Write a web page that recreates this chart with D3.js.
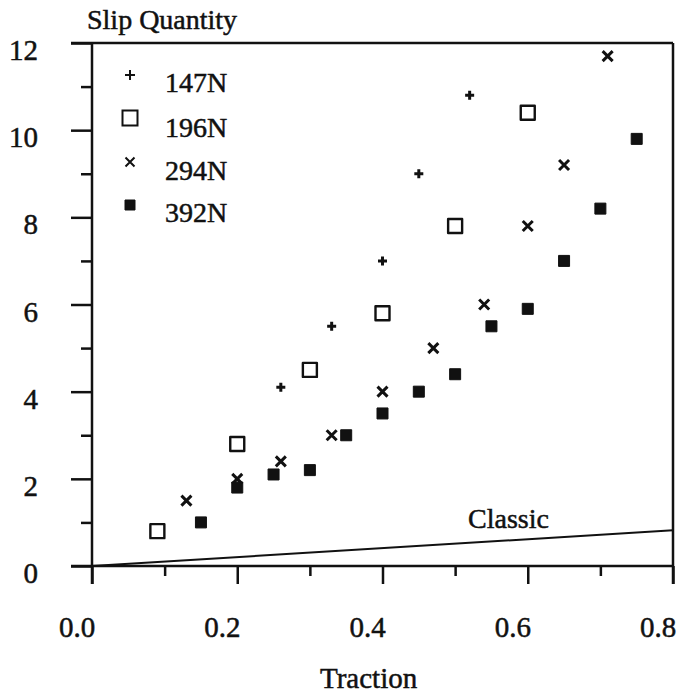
<!DOCTYPE html>
<html>
<head>
<meta charset="utf-8">
<script src="https://cdn.jsdelivr.net/npm/d3@7"></script>
<style>
  body { margin: 0; background: #fff; }
  text { font-family: "Liberation Serif", "Times New Roman", serif; fill: #111; stroke: #111; stroke-width: 0.5px; }
</style>
</head>
<body>
<script>
const w = 680;
const h = 695;

// data
const load147 = [[0.26, 4.1], [0.33, 5.5], [0.40, 7.0], [0.45, 9.0], [0.52, 10.8]];
const load196 = [[0.09, 0.8], [0.20, 2.8], [0.30, 4.5], [0.40, 5.8], [0.50, 7.8], [0.60, 10.4]];
const load294 = [[0.13, 1.5], [0.20, 2.0], [0.26, 2.4], [0.33, 3.0], [0.40, 4.0], [0.47, 5.0],
  [0.54, 6.0], [0.60, 7.8], [0.65, 9.2], [0.71, 11.7]];
const load392 = [[0.15, 1.0], [0.20, 1.8], [0.25, 2.1], [0.30, 2.2], [0.35, 3.0], [0.40, 3.5],
  [0.45, 4.0], [0.50, 4.4], [0.55, 5.5], [0.60, 5.9], [0.65, 7.0], [0.70, 8.2], [0.75, 9.8]];
const classic = [[0, 0], [0.8, 0.82]];
const seriesNames = ["147N", "196N", "294N", "392N"];
const xTicks = [0, 0.2, 0.4, 0.6, 0.8];
const xMinor = [0.1, 0.3, 0.5, 0.7];
const yTicks = [0, 2, 4, 6, 8, 10, 12];
const yMinor = [1, 3, 5, 7, 9, 11];

const padLeft = 92, padRight = 673, padTop = 43, padBottom = 566;

const svg = d3.select("body").append("svg")
  .attr("width", w)
  .attr("height", h);

const x = d3.scaleLinear().domain([0, 0.8]).range([padLeft, padRight]);
const y = d3.scaleLinear().domain([0, 12]).range([padBottom, padTop]);

// y axis (major + minor ticks, labels drawn separately)
svg.append("g")
  .attr("transform", "translate(" + padLeft + ",0)")
  .call(d3.axisLeft(y).tickValues(yTicks).tickSize(21).tickSizeOuter(0).tickFormat(""))
  .call(g => g.select(".domain").remove());
svg.append("g")
  .attr("transform", "translate(" + padLeft + ",0)")
  .call(d3.axisLeft(y).tickValues(yMinor).tickSize(11).tickFormat(""))
  .call(g => g.select(".domain").remove());

svg.append("g")
  .attr("transform", "translate(0," + padBottom + ")")
  .call(d3.axisBottom(x).tickValues(xTicks).tickSize(18).tickFormat(""))
  .call(g => g.select(".domain").remove());
svg.append("g")
  .attr("transform", "translate(0," + padBottom + ")")
  .call(d3.axisBottom(x).tickValues(xMinor).tickSize(10).tickFormat(""))
  .call(g => g.select(".domain").remove());

svg.selectAll(".tick line").attr("stroke", "#111").attr("stroke-width", 2.5);

// frame
const frame = [
  [padLeft - 21, padTop, padRight, padTop],
  [padLeft - 21, padBottom, padRight, padBottom],
  [padLeft, padTop, padLeft, padBottom + 18],
  [padRight, padTop, padRight, padBottom + 18]
];
svg.selectAll("line.frame")
  .data(frame)
  .enter()
  .append("line")
  .attr("class", "frame")
  .attr("x1", d => d[0]).attr("y1", d => d[1])
  .attr("x2", d => d[2]).attr("y2", d => d[3])
  .attr("stroke", "#111")
  .attr("stroke-width", 2.5);

// tick labels
svg.selectAll("text.ylab")
  .data(yTicks)
  .enter()
  .append("text")
  .attr("class", "ylab")
  .attr("x", 38)
  .attr("y", d => y(d) + 17)
  .attr("text-anchor", "end")
  .style("font-size", "29px")
  .text(d => d);

svg.selectAll("text.xlab")
  .data(xTicks)
  .enter()
  .append("text")
  .attr("class", "xlab")
  .attr("x", d => x(d) - 15)
  .attr("y", 637)
  .attr("text-anchor", "middle")
  .style("font-size", "29px")
  .text(d => d3.format(".1f")(d));

svg.append("text")
  .attr("x", 87).attr("y", 29)
  .style("font-size", "28px")
  .text("Slip Quantity");

svg.append("text")
  .attr("x", 320).attr("y", 688)
  .style("font-size", "29px")
  .text("Traction");

// classic line
svg.append("path")
  .datum(classic)
  .attr("d", d3.line().x(d => x(d[0])).y(d => y(d[1])))
  .attr("fill", "none")
  .attr("stroke", "#111")
  .attr("stroke-width", 2);

svg.append("text")
  .attr("x", 468).attr("y", 528)
  .style("font-size", "28px")
  .text("Classic");

// marker shapes
function plus(s) { return "M" + (-s) + ",0H" + s + "M0," + (-s) + "V" + s; }
function cross(s) { return "M" + (-s) + "," + (-s) + "L" + s + "," + s + "M" + (-s) + "," + s + "L" + s + "," + (-s); }
function square(s) { return "M" + (-s) + "," + (-s) + "H" + s + "V" + s + "H" + (-s) + "Z"; }

const markers = [
  { data: load147, d: plus(4.5), fill: "none", sw: 3 },
  { data: load196, d: square(7), fill: "#fff", sw: 2.4 },
  { data: load294, d: cross(5), fill: "none", sw: 3 },
  { data: load392, d: square(5.5), fill: "#111", sw: 1 }
];

markers.forEach(m => {
  svg.append("g")
    .selectAll("path")
    .data(m.data)
    .enter()
    .append("path")
    .attr("transform", d => "translate(" + x(d[0]) + "," + y(d[1]) + ")")
    .attr("d", m.d)
    .attr("fill", m.fill)
    .attr("stroke", "#111")
    .attr("stroke-width", m.sw)
    .attr("stroke-linejoin", "round");
});

// legend
const legendMarks = [
  { d: plus(5), fill: "none", sw: 2, cy: 75, ty: 92 },
  { d: square(7.5), fill: "#fff", sw: 2, cy: 118, ty: 137 },
  { d: cross(4.5), fill: "none", sw: 2, cy: 162, ty: 180 },
  { d: square(5), fill: "#111", sw: 1, cy: 205, ty: 222 }
];
const legend = svg.append("g");
legend.selectAll("path")
  .data(legendMarks)
  .enter()
  .append("path")
  .attr("transform", d => "translate(130," + d.cy + ")")
  .attr("d", d => d.d)
  .attr("fill", d => d.fill)
  .attr("stroke", "#111")
  .attr("stroke-width", d => d.sw);
legend.selectAll("text")
  .data(seriesNames)
  .enter()
  .append("text")
  .attr("x", 165)
  .attr("y", (d, i) => legendMarks[i].ty)
  .style("font-size", "28px")
  .text(d => d);
</script>
</body>
</html>
